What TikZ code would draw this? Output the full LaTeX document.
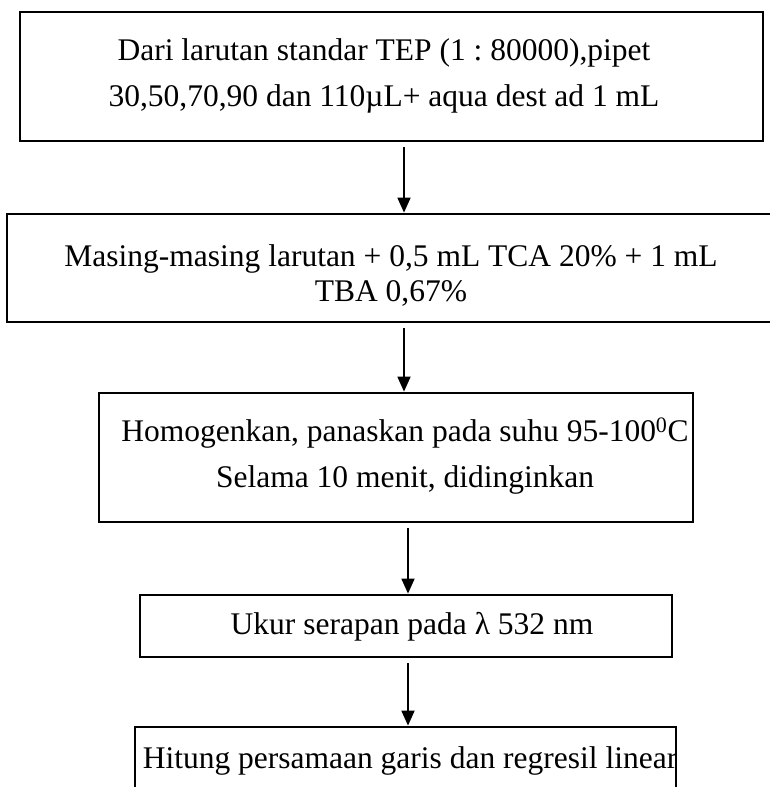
\documentclass[tikz,border=0pt]{standalone}
\usepackage{fontspec}
\setmainfont{Liberation Serif}
\usetikzlibrary{arrows.meta,positioning}
\tikzset{
    stepbox/.style={
    rectangle,draw=black,line width=2.8pt,inner sep=0pt
    },
    steptext/.style={
    align=center,inner sep=0pt,font=\fontsize{31.5}{35}\selectfont\frenchspacing
    },
    widetext/.style={
    steptext,font=\fontsize{31.5}{46}\selectfont\frenchspacing
    },
    flow/.style={
    -{Triangle[length=15pt,width=13pt]},line width=1.8pt,shorten <=5pt
    },
}
\begin{document}
\begin{tikzpicture}[x=1pt, y=-1pt]
   \useasboundingbox (0,0) rectangle (770,787);
   \clip (0,0) rectangle (770,787);
   % boxes
   \node[stepbox, minimum width=743pt, minimum height=129pt] (b1) at (391.5,76.5) {};
   \node[stepbox, minimum width=773pt, minimum height=108pt] (b2) at (393.5,268) {};
   \node[stepbox, minimum width=594pt, minimum height=129pt] (b3) at (396,457.5) {};
   \node[stepbox, minimum width=532pt, minimum height=62pt] (b4) at (406,626) {};
   \node[stepbox, minimum width=541pt, minimum height=73pt] (b5) at (405.5,763.5) {};
   % texts
   \node[widetext] (t1) at (384,76) {Dari larutan standar TEP (1 : 80000),pipet\\30,50,70,90 dan 110µL+ aqua dest ad 1 mL};
   \node[steptext] (t2) at (391,275) {Masing-masing larutan + 0,5 mL TCA 20\% + 1 mL\\TBA 0,67\%};
   \node[widetext] (t3) at (405,456) {Homogenkan, panaskan pada suhu 95-100\textsuperscript{0}C\\Selama 10 menit, didinginkan};
   \node[steptext] (t4) at (412,627) {Ukur serapan pada λ 532 nm};
   \node[steptext] (t5) at (410,761) {Hitung persamaan garis dan regresil linear};
   % arrows
   \coordinate (c1) at (404,0);
   \coordinate (c2) at (408,0);
   \draw[flow] (b1.south -| c1) -- (b2.north -| c1);
   \draw[flow] (b2.south -| c1) -- (b3.north -| c1);
   \draw[flow] (b3.south -| c2) -- (b4.north -| c2);
   \draw[flow] (b4.south -| c2) -- (b5.north -| c2);
\end{tikzpicture}
\end{document}
